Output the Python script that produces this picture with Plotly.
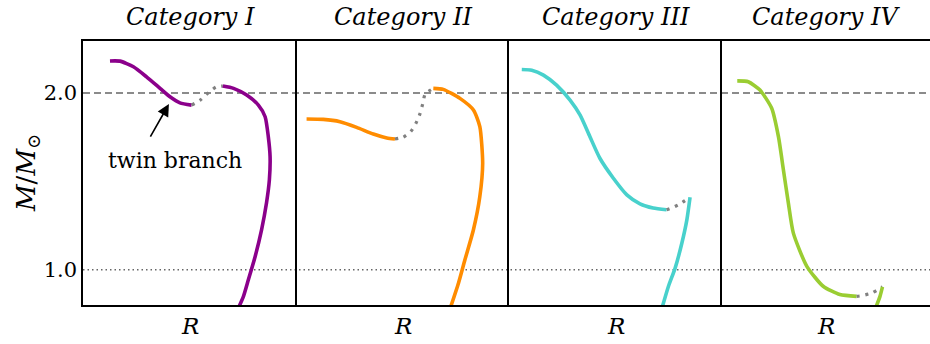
import plotly.graph_objects as go
from plotly.subplots import make_subplots

categories = ["Category I", "Category II", "Category III", "Category IV"]
colors = ["#8B008B", "#FF8C00", "#48D1CC", "#9ACD32"]

# Category I: twin branch (upper left), unstable (dotted), hadronic branch
I_twin_R = [9.76, 10.04, 10.42, 10.79, 11.17, 11.45, 11.73, 12.06]
I_twin_M = [2.182, 2.181, 2.149, 2.092, 2.027, 1.979, 1.945, 1.932]
I_uns_R = [12.06, 12.30, 12.55, 12.75, 12.94]
I_uns_M = [1.932, 1.960, 2.005, 2.035, 2.040]
I_had_R = [12.94, 13.24, 13.61, 13.94, 14.13, 14.22, 14.27, 14.25, 14.17, 14.03, 13.85, 13.66, 13.52, 13.40]
I_had_M = [2.040, 2.027, 1.989, 1.932, 1.866, 1.753, 1.640, 1.508, 1.379, 1.226, 1.075, 0.944, 0.849, 0.793]

# Category II
II_twin_R = [9.27, 9.74, 10.21, 10.68, 11.15, 11.53, 11.76]
II_twin_M = [1.853, 1.851, 1.838, 1.806, 1.768, 1.746, 1.740]
II_uns_R = [11.76, 11.99, 12.20, 12.35, 12.46, 12.54, 12.61, 12.84]
II_uns_M = [1.740, 1.750, 1.781, 1.829, 1.881, 1.938, 1.994, 2.027]
II_had_R = [12.84, 13.12, 13.59, 13.97, 14.15, 14.23, 14.15, 13.97, 13.73, 13.55, 13.33]
II_had_M = [2.027, 2.021, 1.970, 1.904, 1.810, 1.603, 1.414, 1.226, 1.056, 0.925, 0.790]

# Category III
III_twin_R = [9.36, 9.64, 9.97, 10.34, 10.72, 11.00, 11.28, 11.56, 11.94, 12.32, 12.69, 13.06, 13.44]
III_twin_M = [2.134, 2.130, 2.102, 2.045, 1.960, 1.876, 1.753, 1.631, 1.518, 1.424, 1.373, 1.349, 1.339]
III_uns_R = [13.44, 13.58, 13.82, 14.10]
III_uns_M = [1.339, 1.349, 1.373, 1.410]
III_had_R = [14.10, 14.01, 13.87, 13.68, 13.49, 13.32]
III_had_M = [1.410, 1.282, 1.151, 1.009, 0.905, 0.790]

# Category IV
IV_twin_R = [9.43, 9.74, 10.07, 10.40, 10.59, 10.73, 10.87, 11.01, 11.39, 11.85, 12.32, 12.79]
IV_twin_M = [2.069, 2.064, 2.017, 1.914, 1.753, 1.565, 1.377, 1.207, 1.019, 0.906, 0.859, 0.849]
IV_uns_R = [12.79, 12.94, 13.22, 13.52]
IV_uns_M = [0.849, 0.853, 0.868, 0.903]
IV_had_R = [13.52, 13.45, 13.34]
IV_had_M = [0.903, 0.849, 0.790]

yticks = [1.0, 2.0]
ytick_labels = ["1.0", "2.0"]
max_mass_line = 2.0
one_mass_line = 1.0

panels = [
    (I_twin_R, I_twin_M, I_uns_R, I_uns_M, I_had_R, I_had_M),
    (II_twin_R, II_twin_M, II_uns_R, II_uns_M, II_had_R, II_had_M),
    (III_twin_R, III_twin_M, III_uns_R, III_uns_M, III_had_R, III_had_M),
    (IV_twin_R, IV_twin_M, IV_uns_R, IV_uns_M, IV_had_R, IV_had_M),
]

FONT = "DejaVu Serif"
W, H = 930, 344
ML, MR, MT, MB = 83, 0, 41, 39
edges_px = [83, 297, 509, 722, 930]
plot_w = W - ML - MR
doms = [((edges_px[i] - ML) / plot_w, (edges_px[i + 1] - ML) / plot_w) for i in range(4)]
px_per_R = 35.5

fig = make_subplots(rows=1, cols=4, shared_yaxes=True, horizontal_spacing=0)

for i, (tR, tM, uR, uM, hR, hM) in enumerate(panels):
    c = i + 1
    fig.add_trace(go.Scatter(x=tR, y=tM, mode="lines", line=dict(color=colors[i], width=3.6, shape="spline", smoothing=0.6),
                             showlegend=False, hoverinfo="skip"), row=1, col=c)
    fig.add_trace(go.Scatter(x=uR, y=uM, mode="lines", line=dict(color="gray", width=3.2, dash="3px,6px", shape="spline", smoothing=0.6),
                             showlegend=False, hoverinfo="skip"), row=1, col=c)
    fig.add_trace(go.Scatter(x=hR, y=hM, mode="lines", line=dict(color=colors[i], width=3.6, shape="spline", smoothing=0.6),
                             showlegend=False, hoverinfo="skip"), row=1, col=c)
    width_px = edges_px[i + 1] - edges_px[i]
    fig.update_xaxes(domain=list(doms[i]), range=[9, 9 + width_px / px_per_R], showticklabels=False, ticks="",
                     showgrid=False, zeroline=False, showline=True, linecolor="black", linewidth=1.5,
                     mirror=True, row=1, col=c)
    fig.update_yaxes(range=[0.8, 2.295], showgrid=False, zeroline=False, showline=True, linecolor="black",
                     linewidth=1.5, mirror=False, ticks="", row=1, col=c)
    xm = (doms[i][0] + doms[i][1]) / 2
    fig.add_annotation(x=xm, y=1, xref="paper", yref="paper", yshift=24, xanchor="center", yanchor="middle",
                       showarrow=False, text="<i>" + categories[i] + "</i>",
                       font=dict(family=FONT, size=24, color="black"))
    fig.add_annotation(x=xm, y=0, xref="paper", yref="paper", yshift=-21, xanchor="center", yanchor="middle",
                       showarrow=False, text="<i>R</i>", font=dict(family=FONT, size=23, color="black"))

fig.update_yaxes(tickvals=yticks, ticktext=ytick_labels, tickfont=dict(family=FONT, size=21, color="black"),
                 row=1, col=1)

fig.add_shape(type="line", xref="paper", x0=0, x1=1, yref="y", y0=max_mass_line, y1=max_mass_line,
              line=dict(color="#666666", width=1.5, dash="7px,4px"), layer="below")
fig.add_shape(type="line", xref="paper", x0=0, x1=1, yref="y", y0=one_mass_line, y1=one_mass_line,
              line=dict(color="#666666", width=1.5, dash="1.5px,3px"), layer="below")

# annotation arrow
fig.add_annotation(x=11.42, y=1.938, xref="x", yref="y", ax=10.80, ay=1.718, axref="x", ayref="y",
                   showarrow=True, arrowhead=2, arrowsize=1.5, arrowwidth=1.6, arrowcolor="black", text=" ")
fig.add_annotation(x=11.59, y=1.616, xref="x", yref="y", showarrow=False, text="twin branch",
                   font=dict(family=FONT, size=22, color="black"))

fig.add_annotation(x=0, y=0.5, xref="paper", yref="paper", xshift=-56, xanchor="center", yanchor="middle",
                   showarrow=False, textangle=-90,
                   text="<i>M</i>/<i>M</i><sub>⊙</sub>", font=dict(family=FONT, size=26, color="black"))

fig.update_layout(width=W, height=H, margin=dict(l=ML, r=MR, t=MT, b=MB),
                  plot_bgcolor="white", paper_bgcolor="white", showlegend=False,
                  font=dict(family=FONT))

fig.write_html("out.html", config={"displayModeBar": False},
               post_script="document.body.style.margin='0';document.body.style.overflow='hidden';")
